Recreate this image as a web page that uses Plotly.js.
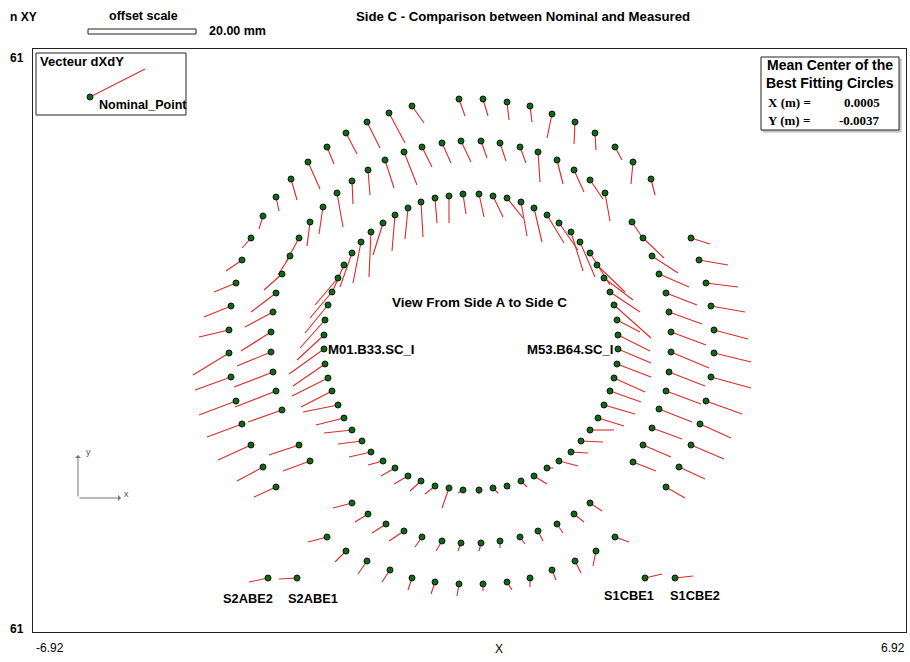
<!DOCTYPE html>
<html><head><meta charset="utf-8">
<script src="https://cdn.plot.ly/plotly-3.0.1.min.js"></script>
<style>html,body{margin:0;padding:0;background:#fff}#chart{width:910px;height:662px}</style>
</head><body><div id="chart"></div>
<script>
// ---- Data (nominal positions and measured offset vectors, plot units) ----
const outerX = [-193,-206,-218,-227,-233,-238,-240,-240,-238,-233,-227,-218,-206,-193,-178,-161,-142,-123,-102,-80,-57,-10,14,38,61,83,106,126,146,164,182,222,230,237,242,245,245,242,237,231,222,210,197,-142,-123,-102,-79,-57,-34,-10,14,38,61,83,106,127,146];
const outerY = [-147,-127,-105,-84,-61,-37,-13,10,34,57,80,102,124,143,161,178,193,207,218,227,234,241,241,238,234,226,218,207,193,178,161,102,80,57,34,10,-13,-37,-61,-84,-105,-127,-147,-197,-211,-221,-230,-238,-242,-244,-244,-242,-238,-230,-221,-211,-197];
const outerDX = [-22,-26,-33,-35,-37,-36,-36,-30,-27,-22,-16,-9,-4,3,6,12,7,11,13,16,12,6,5,2,2,-5,-1,1,7,-2,4,19,29,32,34,34,37,40,36,31,33,26,19,-19,-11,-9,-8,-4,-4,-2,0,5,0,4,6,-3,14];
const outerDY = [-10,-14,-15,-13,-14,-13,-22,-7,-11,-9,-11,-10,-13,-14,-21,-27,-17,-21,-26,-30,-17,-17,-17,-18,-16,-24,-22,-17,-13,-22,-16,-6,-5,-4,-6,-9,-9,-11,-13,-14,-14,-12,-11,-5,-11,-13,-12,-12,-12,-12,-7,-8,-9,-10,-12,-15,-5];

const middleX = [-159,-170,-187,-193,-196,-198,-198,-196,-193,-187,-179,-170,-159,-146,-132,-117,-101,-84,-65,-47,-27,-8,12,31,51,69,88,105,121,136,163,174,183,190,197,200,202,202,200,197,190,183,174,164,-117,-101,-83,-65,-47,-27,-8,12,31,51,69,88,105,121];
const middleY = [-121,-105,-70,-51,-32,-12,8,28,47,66,84,102,118,133,147,159,170,180,188,193,197,199,199,197,193,188,180,170,160,147,118,102,84,66,47,28,8,-12,-32,-51,-69,-88,-105,-122,-163,-174,-184,-191,-197,-201,-203,-203,-201,-197,-191,-184,-174,-163];
const middleDX = [-27,-30,-34,-41,-39,-34,-30,-28,-25,-18,-12,-13,-3,-4,6,1,2,9,13,10,9,10,6,6,6,2,6,10,13,5,12,21,26,30,31,33,35,38,36,35,33,30,28,23,-19,-13,-14,-15,-7,-6,-3,-2,0,5,5,6,10,12];
const middleDY = [-10,-10,-12,-16,-15,-14,-19,-15,-19,-16,-19,-24,-24,-27,-34,-23,-25,-28,-33,-20,-20,-21,-17,-18,-16,-30,-24,-22,-19,-28,-18,-20,-17,-13,-12,-12,-13,-16,-14,-13,-13,-11,-12,-9,-5,-8,-9,-10,-10,-10,-8,-8,-7,-7,-10,-9,-8,-8];

const innerX = [-34,-48,-61,-74,-86,-98,-107,-117,-125,-131,-137,-141,-144,-145,-145,-144,-141,-137,-131,-125,-117,-108,-98,-86,-74,-61,-48,-34,-20,-6,10,24,38,52,65,78,90,102,111,121,128,135,141,145,148,149,149,148,145,141,135,129,121,112,102,90,78,65,52,38,24,10,-6,-20];
const innerY = [-146,-141,-136,-128,-121,-112,-101,-90,-78,-65,-51,-38,-24,-9,5,20,35,48,62,75,87,98,108,117,125,132,138,142,144,146,146,144,142,138,132,125,117,108,98,87,75,62,48,35,20,5,-9,-24,-38,-51,-65,-78,-90,-101,-112,-121,-128,-136,-141,-146,-148,-150,-150,-148];
const innerDX = [-10,-11,-14,-14,-15,-22,-24,-28,-28,-35,-31,-36,-32,-35,-27,-25,-23,-22,-23,-13,-12,-8,-2,-10,-3,-3,2,2,0,3,5,10,16,6,8,17,19,12,15,20,28,29,30,37,23,32,33,34,31,31,31,26,24,22,17,19,6,13,6,3,5,0,-5,-7];
const innerDY = [-8,-10,-8,-8,-4,-5,-3,-3,-7,-7,-16,-18,-22,-25,-25,-28,-28,-26,-27,-30,-34,-41,-45,-32,-36,-31,-35,-25,-27,-20,-23,-21,-20,-34,-34,-28,-27,-39,-35,-32,-27,-22,-20,-33,-12,-16,-14,-13,-14,-11,-9,-8,0,-1,-1,-5,0,-8,-6,-3,-5,-4,-3,-20];

const beamNames = ['S2ABE2','S2ABE1','S1CBE1','S1CBE2'];
const beamX = [-201,-172,176,206];
const beamY = [-238,-238,-238,-238];
const beamDX = [-19,-18,17,18];
const beamDY = [-4,-1,4,2];

const cornerLabels = {yTop:'61', yBottom:'61', xMin:'-6.92', xMax:'6.92', xName:'X'};
const meanCenter = {x:'0.0005', y:'-0.0037'};
const scaleText = '20.00 mm';

// ---- Build traces ----
const groups = [[outerX,outerY,outerDX,outerDY],[middleX,middleY,middleDX,middleDY],[innerX,innerY,innerDX,innerDY],[beamX,beamY,beamDX,beamDY]];
const segX=[], segY=[], ptX=[], ptY=[];
groups.forEach(([X,Y,DX,DY])=>{
  for(let i=0;i<X.length;i++){
    segX.push(X[i], X[i]+DX[i], null);
    segY.push(Y[i], Y[i]+DY[i], null);
    ptX.push(X[i]); ptY.push(Y[i]);
  }
});

const traces = [
  {type:'scatter', mode:'lines', x:segX, y:segY, line:{color:'#dd2a2a', width:1.1}, hoverinfo:'skip', showlegend:false},
  {type:'scatter', mode:'markers', x:ptX, y:ptY, marker:{size:6, color:'#0b6b12', line:{color:'#111', width:1}}, hoverinfo:'skip', showlegend:false}
];

// ---- Layout helpers (pixel -> paper) ----
const PL=33, PT=49, PR=906, PB=632;
const px = v => (v-PL)/(PR-PL);
const py = v => (PB-v)/(PB-PT);
const F = 'Liberation Sans, Arial, sans-serif';
const FS = 'Liberation Serif, Times New Roman, serif';

function txt(x,y,text,opt={}){
  return Object.assign({xref:'paper', yref:'paper', x:px(x), y:py(y), text:text, showarrow:false,
    xanchor:opt.xa||'left', yanchor:'middle',
    font:{family:opt.ff||F, size:opt.size||12, color:opt.c||'#000', weight:opt.w||'bold'}}, opt.extra||{});
}

const annotations = [
  txt(8,17,'n XY',{size:12}),
  txt(107,16,'offset scale',{size:12.5}),
  txt(207,31,scaleText,{size:12.5}),
  txt(523,16,'Side C - Comparison between Nominal and Measured',{xa:'center',size:13.2}),
  txt(8,58,cornerLabels.yTop,{size:12}),
  txt(8,629,cornerLabels.yBottom,{size:12}),
  txt(34,648,cornerLabels.xMin,{size:12,w:'normal'}),
  txt(499,649,cornerLabels.xName,{xa:'center',size:12,w:'normal'}),
  txt(907,648,cornerLabels.xMax,{xa:'right',size:12,w:'normal'}),
  // legend
  txt(38,62,'Vecteur dXdY',{size:13}),
  txt(97,105,'Nominal_Point',{size:12.5}),
  // mean center box
  txt(830,65,'Mean Center of the',{xa:'center',size:14}),
  txt(830,83,'Best Fitting Circles',{xa:'center',size:14}),
  txt(766,102,'X (m) =',{ff:FS,size:13}),
  txt(882,102,meanCenter.x,{ff:FS,size:13,xa:'right'}),
  txt(766,120,'Y (m) =',{ff:FS,size:13}),
  txt(882,120,meanCenter.y,{ff:FS,size:13,xa:'right'}),
  // in-plot labels
  {xref:'x', yref:'y', x:innerX[13], y:innerY[13], text:'M01.B33.SC_I', showarrow:false, xanchor:'left', yanchor:'middle', xshift:2, font:{family:F,size:13.2,color:'#000',weight:'bold'}},
  {xref:'x', yref:'y', x:innerX[46], y:innerY[46], text:'M53.B64.SC_I', showarrow:false, xanchor:'right', yanchor:'middle', xshift:-2, font:{family:F,size:13.2,color:'#000',weight:'bold'}},
  {xref:'x', yref:'y', x:10, y:38, text:'View From Side A to Side C', showarrow:false, xanchor:'center', yanchor:'middle', font:{family:F,size:13.5,color:'#000',weight:'bold'}},
  // axis icon
  {xref:'paper', yref:'paper', x:px(78), y:py(455), ax:0, ay:43, showarrow:true, arrowhead:1, arrowsize:1, arrowwidth:1, arrowcolor:'#777', text:''},
  {xref:'paper', yref:'paper', x:px(121), y:py(498), ax:-43, ay:0, showarrow:true, arrowhead:1, arrowsize:1, arrowwidth:1, arrowcolor:'#777', text:''},
  txt(84,452,'y',{size:9,w:'normal',c:'#555'}),
  txt(122,494,'x',{size:9,w:'normal',c:'#555'})
];
// beam labels
const beamShift = [[-20,-20],[16,-20],[-16,-17],[20,-17]];
beamNames.forEach((n,i)=>annotations.push({xref:'x', yref:'y', x:beamX[i], y:beamY[i], text:n, showarrow:false,
  xanchor:'center', yanchor:'middle', xshift:beamShift[i][0], yshift:beamShift[i][1], font:{family:F,size:12.8,color:'#000',weight:'bold'}}));

const shapes = [
  {type:'rect', xref:'paper', yref:'paper', x0:px(88), x1:px(196), y0:py(29), y1:py(34), line:{color:'#222', width:1}, fillcolor:'#fff'},
  {type:'rect', xref:'paper', yref:'paper', x0:px(36), x1:px(186), y0:py(53), y1:py(115), line:{color:'#222', width:1}, fillcolor:'rgba(0,0,0,0)'},
  {type:'line', xref:'paper', yref:'paper', x0:px(90), y0:py(97), x1:px(145), y1:py(69), line:{color:'#dd2a2a', width:1.1}},
  {type:'circle', xref:'paper', yref:'paper', x0:px(87), x1:px(93), y0:py(94), y1:py(100), line:{color:'#111', width:1}, fillcolor:'#0b6b12'},
  {type:'rect', xref:'paper', yref:'paper', x0:px(763), x1:px(901), y0:py(59), y1:py(132), line:{color:'#bbb', width:1}, fillcolor:'#ccc'},
  {type:'rect', xref:'paper', yref:'paper', x0:px(761), x1:px(899), y0:py(57), y1:py(130), line:{color:'#222', width:1}, fillcolor:'#fff'}
];

const layout = {
  width:910, height:662, paper_bgcolor:'#fff', plot_bgcolor:'#fff',
  margin:{l:PL, r:910-PR, t:PT, b:662-PB, pad:0},
  xaxis:{range:[PL-469, PR-469], showgrid:false, zeroline:false, showticklabels:false, ticks:'', showline:true, mirror:true, linecolor:'#222', linewidth:1, fixedrange:true},
  yaxis:{range:[340-PB, 340-PT], showgrid:false, zeroline:false, showticklabels:false, ticks:'', showline:true, mirror:true, linecolor:'#222', linewidth:1, fixedrange:true},
  showlegend:false, annotations:annotations, shapes:shapes
};
Plotly.newPlot('chart', traces, layout, {displayModeBar:false, staticPlot:true});
</script></body></html>
